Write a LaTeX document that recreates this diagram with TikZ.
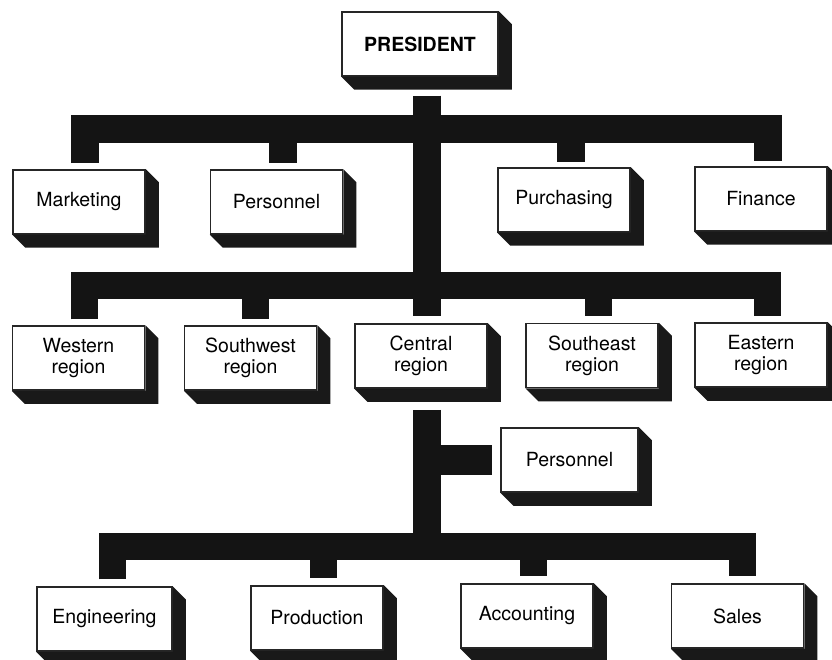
\documentclass[tikz,border=0pt]{standalone}
\usepackage{fontspec}
\setmainfont{TeX Gyre Heros}
\usetikzlibrary{calc}

\tikzset{
  orgbox/.style={draw=black!85, line width=1.5pt, fill=white,
    minimum width=132pt, minimum height=64pt, inner sep=0pt,
    align=center, font=\fontsize{19.5}{21}\selectfont},
  bar/.style={draw=black!92, line width=28pt, line join=miter, line cap=butt},
}

% solid block drawn to the lower right of a box, giving it depth
\newcommand\boxdepth[1]{%
  \fill[black!90] (#1.north east) -- ++(13pt,-13pt)
    -- ([shift={(13pt,-13pt)}]#1.south east)
    -- ([shift={(13pt,-13pt)}]#1.south west)
    -- (#1.south west) -- (#1.south east) -- cycle;}

\begin{document}
\begin{tikzpicture}[x=1pt, y=-1pt]
  \clip (0,0) rectangle (832,660);
  \fill[white] (0,0) rectangle (832,660);

  % top
  \node[orgbox, minimum width=156pt] (pres) at (420,44) {\bfseries PRESIDENT};

  % staff departments
  \node[orgbox] (mkt) at (79,202)    {Marketing};
  \node[orgbox] (per) at (276.5,202) {Personnel};
  \node[orgbox] (pur) at (564,200)   {Purchasing};
  \node[orgbox] (fin) at (761,199)   {Finance};

  % regions
  \node[orgbox] (wes) at (78.5,358)  {Western\\region};
  \node[orgbox] (swr) at (250.5,358) {Southwest\\region};
  \node[orgbox] (cen) at (421,356)   {Central\\region};
  \node[orgbox] (ser) at (592,355.5) {Southeast\\region};
  \node[orgbox] (eas) at (761,355)   {Eastern\\region};

  % central region staff
  \node[orgbox, minimum width=137pt] (rper) at (569.5,460) {Personnel};

  % central region functions
  \node[orgbox, minimum width=135pt] (eng) at (104.5,619) {Engineering};
  \node[orgbox] (pro) at (317,618)   {Production};
  \node[orgbox] (acc) at (527,616)   {Accounting};
  \node[orgbox] (sal) at (737.5,616) {Sales};

  \foreach \n in {pres,mkt,per,pur,fin,wes,swr,cen,ser,eas,rper,eng,pro,acc,sal}
    {\boxdepth{\n}}

  % levels of the horizontal bars
  \coordinate (lvA) at (427,129);
  \coordinate (lvB) at (427,285.5);
  \coordinate (lvC) at (427,546);

  % main trunk from the president to the central region
  \draw[bar] ([xshift=7pt,yshift=-19pt]pres.south) -- ([xshift=6pt,yshift=7pt]cen.north);

  % staff departments
  \draw[bar] ([xshift=5.5pt,yshift=6pt]mkt.north) |- (lvA)
             -| ([xshift=6.5pt,yshift=5pt]fin.north);
  \draw[bar] (lvA -| per.north) ++(6.5pt,0) coordinate (pa)
             (pa) -- ([xshift=6.5pt,yshift=6pt]per.north);
  \draw[bar] (lvA -| pur.north) ++(7pt,0) coordinate (pb)
             (pb) -- ([xshift=7pt,yshift=5pt]pur.north);

  % regions
  \draw[bar, line width=27pt] ([xshift=5.5pt,yshift=6pt]wes.north) |- (lvB)
             -| ([xshift=6.5pt,yshift=6pt]eas.north);
  \draw[bar, line width=27pt] (lvB -| swr.north) ++(5pt,0) coordinate (pc)
             (pc) -- ([xshift=5pt,yshift=6pt]swr.north);
  \draw[bar, line width=27pt] (lvB -| ser.north) ++(6pt,0) coordinate (pd)
             (pd) -- ([xshift=6pt,yshift=7pt]ser.north);

  % below the central region
  \draw[bar] ([xshift=6pt,yshift=-21pt]cen.south) -- ([xshift=6pt]cen.south |- lvC);
  \draw[bar, line width=30pt] ([xshift=6pt]cen.south |- rper.west)
             -- ([xshift=-8pt]rper.west);
  \draw[bar, line width=27pt] ([xshift=8pt,yshift=7pt]eng.north) |- (lvC)
             -| ([xshift=5pt,yshift=7pt]sal.north);
  \draw[bar, line width=27pt] (lvC -| pro.north) ++(6.5pt,0) coordinate (pe)
             (pe) -- ([xshift=6.5pt,yshift=7pt]pro.north);
  \draw[bar, line width=27pt] (lvC -| acc.north) ++(6pt,0) coordinate (pf)
             (pf) -- ([xshift=6pt,yshift=7pt]acc.north);
\end{tikzpicture}
\end{document}
